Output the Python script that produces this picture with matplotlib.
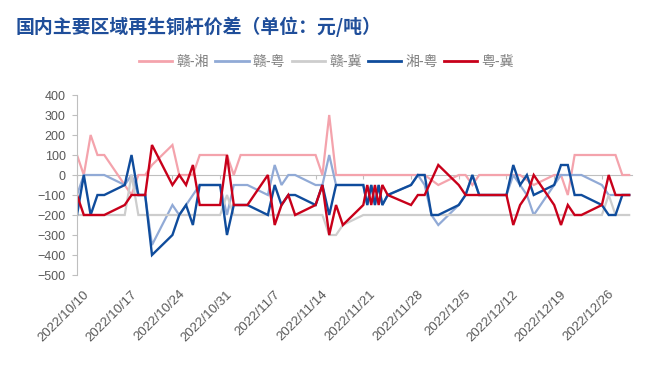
import matplotlib
matplotlib.use("Agg")
import matplotlib.pyplot as plt
import matplotlib.transforms as mtransforms
from matplotlib.lines import Line2D
import pandas as pd

# ---------------- data ----------------
dates = [
    "2022-10-10", "2022-10-11", "2022-10-12", "2022-10-13", "2022-10-14",
    "2022-10-17", "2022-10-18", "2022-10-19", "2022-10-20", "2022-10-21",
    "2022-10-24", "2022-10-25", "2022-10-26", "2022-10-27", "2022-10-28",
    "2022-10-31", "2022-11-01", "2022-11-02", "2022-11-03", "2022-11-04",
    "2022-11-07", "2022-11-08", "2022-11-09", "2022-11-10", "2022-11-11",
    "2022-11-14", "2022-11-15", "2022-11-16", "2022-11-17", "2022-11-18",
    "2022-11-21 00:00", "2022-11-21 14:00", "2022-11-22 04:00", "2022-11-22 17:00",
    "2022-11-23 06:00", "2022-11-23 19:00", "2022-11-24 14:00",
    "2022-11-28", "2022-11-29", "2022-11-30", "2022-12-01", "2022-12-02",
    "2022-12-05", "2022-12-06", "2022-12-07", "2022-12-08", "2022-12-09",
    "2022-12-12", "2022-12-13", "2022-12-14", "2022-12-15", "2022-12-16",
    "2022-12-19", "2022-12-20", "2022-12-21", "2022-12-22", "2022-12-23",
    "2022-12-26", "2022-12-27", "2022-12-28", "2022-12-29", "2022-12-30",
]

gan_xiang = [100, 0, 200, 100, 100,
             -50, -100, 0, 0, 50,
             150, 0, 0, 0, 100,
             100, 100, 0, 100, 100,
             100, 100, 100, 100, 100,
             100, 0, 300, 0, 0,
             0, 0, 0, 0, 0, 0, 0,
             0, 0, 0, -25, -50,
             0, 0, -50, 0, 0,
             0, 0, 0, -25, -50,
             0, 0, -100, 100, 100,
             100, 100, 100, 0, 0]

gan_yue = [-100, 0, 0, 0, 0,
           -50, 0, -100, -100, -350,
           -150, -200, -150, -100, -50,
           -50, -200, -50, -50, -50,
           -100, 50, -50, 0, 0,
           -50, -50, 100, -50, -50,
           -50, -150, -50, -150, -50, -150, -100,
           -50, 0, -50, -200, -250,
           -150, -100, 0, -100, -100,
           -100, 0, -50, -100, -200,
           -50, 0, 0, 0, 0,
           -50, -100, -100, -100, -100]

gan_ji = [-200, -200, -200, -200, -200,
          -200, 0, -200, -200, -200,
          -200, -200, -200, -200, -200,
          -200, -100, -200, -200, -200,
          -200, -200, -200, -200, -200,
          -200, -200, -300, -300, -250,
          -200, -200, -200, -200, -200, -200, -200,
          -200, -200, -200, -200, -200,
          -200, -200, -200, -200, -200,
          -200, -200, -200, -200, -200,
          -200, -200, -200, -200, -200,
          -200, -100, -200, -200, -200]

xiang_yue = [-200, 0, -200, -100, -100,
             -50, 100, -100, -100, -400,
             -300, -200, -150, -250, -50,
             -50, -300, -150, -150, -150,
             -200, -50, -150, -100, -100,
             -150, -50, -200, -50, -50,
             -50, -150, -50, -150, -50, -150, -100,
             -50, 0, 0, -200, -200,
             -150, -100, 0, -100, -100,
             -100, 50, -50, 0, -100,
             -50, 50, 50, -100, -100,
             -150, -200, -200, -100, -100]

yue_ji = [-100, -200, -200, -200, -200,
          -150, -100, -100, -100, 150,
          -50, 0, -50, 50, -150,
          -150, 100, -150, -150, -150,
          0, -250, -150, -100, -200,
          -150, -50, -300, -150, -250,
          -150, -50, -150, -50, -150, -50, -100,
          -150, -100, -100, -25, 50,
          -50, -100, -100, -100, -100,
          -100, -250, -150, -100, 0,
          -150, -250, -150, -200, -200,
          -150, 0, -100, -100, -100]

series_names = ["赣-湘", "赣-粤", "赣-冀", "湘-粤", "粤-冀"]
series_values = [gan_xiang, gan_yue, gan_ji, xiang_yue, yue_ji]
series_colors = ["#F4A3AC", "#91AAD6", "#CDCDCD", "#0F4C9C", "#C8001A"]
series_widths = [1.6, 1.6, 1.6, 1.7, 1.7]

tick_dates = ["2022-10-10", "2022-10-17", "2022-10-24", "2022-10-31", "2022-11-07",
              "2022-11-14", "2022-11-21", "2022-11-28", "2022-12-05", "2022-12-12",
              "2022-12-19", "2022-12-26"]
tick_labels = ["2022/10/10", "2022/10/17", "2022/10/24", "2022/10/31", "2022/11/7",
               "2022/11/14", "2022/11/21", "2022/11/28", "2022/12/5", "2022/12/12",
               "2022/12/19", "2022/12/26"]
y_ticks = [400, 300, 200, 100, 0, -100, -200, -300, -400, -500]

title = "国内主要区域再生铜杆价差（单位：元/吨）"

# ---------------- figure ----------------
CJK = ["Noto Sans CJK SC", "DejaVu Sans"]
LAT = ["Liberation Sans", "DejaVu Sans"]
axis_gray = "#BFBFBF"
text_gray = "#595959"

W, H = 653, 369
fig = plt.figure(figsize=(W / 100, H / 100), dpi=100)
ax = fig.add_axes([77 / W, 1 - 275 / H, (632 - 77) / W, (275 - 95) / H])

x = pd.to_datetime(dates, format="mixed")
for name, vals, col, lw in zip(series_names, series_values, series_colors, series_widths):
    ax.plot(x, vals, color=col, lw=lw, label=name, solid_joinstyle="miter")

ymin, ymax = min(y_ticks), max(y_ticks)
ax.set_ylim(ymin, ymax)
ax.set_xlim(x[0], x[-1] + pd.Timedelta(hours=10))

ax.set_yticks(y_ticks)
ax.tick_params(axis="y", direction="out", length=3.6, width=0.8, color=axis_gray,
               labelcolor=text_gray, labelsize=9, pad=4.5)
for lab in ax.get_yticklabels():
    lab.set_family(LAT)

for s in ["top", "right", "bottom"]:
    ax.spines[s].set_visible(False)
ax.spines["left"].set_color(axis_gray)
ax.spines["left"].set_linewidth(0.8)

tk = pd.to_datetime(tick_dates)
ax.set_xticks(tk, tick_labels)
ax.tick_params(axis="x", length=0, labelcolor=text_gray, labelsize=9.5, pad=9.5)
offset = mtransforms.ScaledTranslation(6 / 100, 0, fig.dpi_scale_trans)
for lab in ax.get_xticklabels():
    lab.set_family(LAT)
    lab.set_rotation(45)
    lab.set_ha("right")
    lab.set_va("top")
    lab.set_rotation_mode("anchor")
    lab.set_transform(lab.get_transform() + offset)

# horizontal axis line at zero with tick marks
sec = ax.secondary_xaxis((0 - ymin) / (ymax - ymin))
sec.set_alignment("bottom")
sec.set_xticks(tk)
sec.tick_params(axis="x", direction="out", length=3, width=0.8, color=axis_gray,
                labelbottom=False, labeltop=False)
sec.spines["bottom"].set_color(axis_gray)
sec.spines["bottom"].set_linewidth(0.8)

# title
fig.text(16 / W, 1 - 27 / H, title, family=CJK, fontsize=13.6, fontweight="bold",
         color="#1F4E9A", va="center", ha="left")

# legend
handles = [Line2D([], [], color=c, lw=2.0) for c in series_colors]
leg = fig.legend(handles, series_names, loc="center", bbox_to_anchor=(0.5, 1 - 62 / H),
                 ncol=5, frameon=False, handlelength=2.4, handletextpad=0.3,
                 columnspacing=0.45, prop={"family": CJK, "size": 10})
for t in leg.get_texts():
    t.set_color("#7F7F7F")

fig.savefig("out.png", dpi=100)
